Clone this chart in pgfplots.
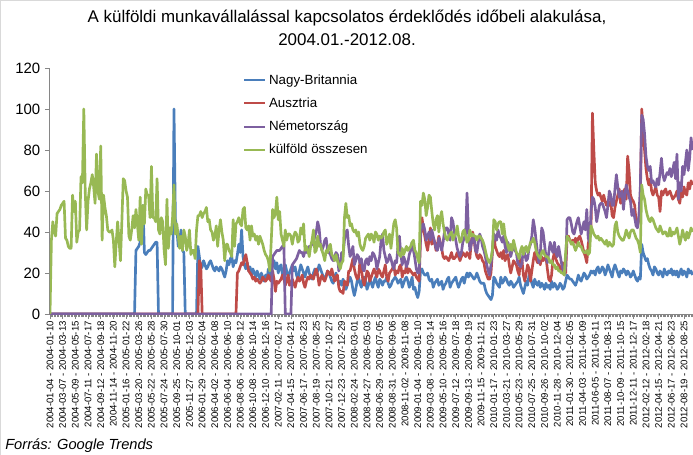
\documentclass[border=0pt]{standalone}
\usepackage{fontspec}
\setmainfont{Liberation Sans}
\usepackage{pgfplots}
\usepackage{pgfplotstable}
\pgfplotsset{compat=1.18}
\definecolor{cUK}{HTML}{4A7EBB}
\definecolor{cAT}{HTML}{BE4B48}
\definecolor{cDE}{HTML}{7D60A0}
\definecolor{cTOT}{HTML}{98B954}
\definecolor{axgray}{HTML}{868686}
\definecolor{framegray}{HTML}{D9D9D9}

% weekly values, week 0 = 2004-01-04
\pgfplotstableread[header=false,row sep=\\]{
0\\0\\0\\0\\0\\0\\0\\0\\0\\0\\
0\\0\\0\\0\\0\\0\\0\\0\\0\\0\\
0\\0\\0\\0\\0\\0\\0\\0\\0\\0\\
0\\0\\0\\0\\0\\0\\0\\0\\0\\0\\
0\\0\\0\\0\\0\\0\\0\\0\\0\\0\\
0\\0\\0\\0\\0\\0\\0\\0\\0\\0\\
0\\31\\32\\33\\35\\40\\53\\30\\29\\30\\
31\\31\\32\\33\\34\\35\\35\\0\\0\\0\\
0\\0\\0\\0\\0\\0\\0\\0\\100\\46\\
42\\33\\36\\41\\31\\30\\0\\0\\0\\0\\
0\\0\\0\\0\\0\\33\\28\\22\\23\\26\\
24\\22\\23\\25\\26\\24\\22\\21\\23\\22\\
21\\23\\22\\20\\18\\21\\26\\24\\27\\28\\
23\\26\\25\\29\\34\\30\\41\\28\\24\\22\\
25\\21\\23\\19\\22\\20\\18\\21\\19\\17\\
20\\18\\16\\19\\17\\22\\18\\21\\24\\26\\
22\\25\\20\\23\\24\\19\\22\\24\\21\\18\\
20\\22\\24\\21\\23\\19\\17\\21\\24\\22\\
20\\18\\21\\23\\20\\18\\17\\20\\22\\19\\
21\\24\\22\\20\\18\\17\\19\\21\\20\\18\\
16\\15\\18\\20\\17\\15\\16\\14\\17\\15\\
12\\14\\16\\18\\16\\12\\9\\12\\16\\18\\
15\\13\\17\\18\\16\\12\\14\\17\\15\\13\\
16\\18\\15\\13\\17\\16\\14\\16\\16\\18\\
15\\13\\14\\16\\17\\18\\17\\15\\16\\17\\
13\\15\\17\\18\\16\\13\\15\\18\\12\\13\\
10\\8\\11\\21\\22\\20\\19\\19\\20\\17\\
16\\17\\13\\15\\16\\17\\14\\15\\16\\12\\
14\\15\\17\\18\\13\\15\\16\\17\\18\\15\\
13\\15\\17\\18\\15\\18\\20\\18\\20\\19\\
18\\17\\18\\20\\18\\16\\15\\15\\15\\12\\
10\\9\\8\\7\\9\\18\\17\\15\\14\\13\\
18\\15\\16\\18\\17\\15\\14\\16\\15\\13\\
14\\15\\16\\18\\14\\12\\10\\13\\16\\14\\
19\\18\\15\\13\\17\\15\\14\\16\\13\\15\\
14\\12\\15\\13\\14\\12\\16\\13\\15\\14\\
12\\13\\15\\14\\12\\13\\16\\19\\18\\17\\
17\\16\\15\\14\\16\\19\\17\\16\\18\\20\\
19\\17\\18\\19\\21\\20\\21\\19\\22\\23\\
20\\21\\23\\22\\19\\21\\24\\22\\20\\18\\
22\\24\\22\\20\\18\\21\\20\\22\\21\\19\\
21\\20\\18\\19\\21\\19\\17\\16\\18\\17\\
34\\30\\28\\26\\27\\24\\22\\21\\19\\23\\
22\\20\\19\\21\\20\\18\\22\\20\\19\\21\\
20\\22\\19\\21\\19\\21\\18\\20\\22\\19\\
21\\20\\18\\22\\20\\21\\19\\
}\tblUK

\pgfplotstableread[header=false,row sep=\\]{
0\\0\\0\\0\\0\\0\\0\\0\\0\\0\\
0\\0\\0\\0\\0\\0\\0\\0\\0\\0\\
0\\0\\0\\0\\0\\0\\0\\0\\0\\0\\
0\\0\\0\\0\\0\\0\\0\\0\\0\\0\\
0\\0\\0\\0\\0\\0\\0\\0\\0\\0\\
0\\0\\0\\0\\0\\0\\0\\0\\0\\0\\
0\\0\\0\\0\\0\\0\\0\\0\\0\\0\\
0\\0\\0\\0\\0\\0\\0\\0\\0\\0\\
0\\0\\0\\0\\0\\0\\0\\0\\0\\0\\
0\\0\\0\\0\\0\\0\\0\\0\\0\\0\\
0\\0\\0\\0\\0\\0\\26\\24\\0\\0\\
0\\0\\0\\0\\0\\0\\0\\0\\0\\0\\
0\\0\\0\\0\\0\\0\\0\\0\\0\\0\\
0\\0\\0\\20\\21\\23\\25\\24\\27\\29\\
25\\21\\20\\19\\17\\18\\16\\17\\16\\15\\
16\\18\\17\\16\\17\\19\\17\\16\\21\\17\\
11\\16\\15\\16\\17\\19\\17\\14\\16\\19\\
14\\15\\17\\15\\13\\16\\18\\16\\17\\19\\
15\\13\\16\\18\\17\\19\\18\\17\\20\\22\\
19\\14\\17\\19\\17\\16\\18\\21\\20\\19\\
22\\19\\16\\18\\19\\13\\11\\11\\10\\16\\
15\\14\\21\\21\\24\\27\\22\\19\\17\\18\\
26\\22\\17\\14\\17\\21\\20\\16\\18\\20\\
22\\20\\18\\22\\21\\19\\18\\21\\24\\18\\
16\\20\\21\\22\\24\\19\\21\\20\\23\\24\\
18\\21\\20\\24\\20\\22\\21\\20\\19\\20\\
18\\17\\16\\37\\47\\42\\38\\34\\31\\36\\
42\\34\\37\\35\\31\\34\\38\\35\\32\\28\\
27\\28\\27\\26\\28\\30\\27\\27\\28\\30\\
28\\26\\28\\30\\29\\28\\30\\29\\27\\35\\
40\\36\\31\\28\\27\\29\\28\\26\\25\\21\\
19\\17\\17\\20\\30\\39\\33\\31\\29\\28\\
30\\27\\31\\26\\28\\29\\24\\20\\23\\26\\
25\\24\\21\\19\\27\\26\\19\\16\\20\\24\\
22\\16\\21\\26\\30\\27\\25\\27\\24\\28\\
26\\27\\28\\22\\17\\16\\19\\27\\30\\27\\
25\\24\\21\\23\\25\\23\\20\\37\\38\\36\\
35\\36\\35\\37\\34\\37\\38\\36\\33\\30\\
28\\25\\34\\38\\40\\98\\80\\64\\60\\58\\
59\\57\\55\\58\\55\\53\\55\\53\\55\\48\\
47\\52\\55\\58\\61\\54\\56\\59\\61\\56\\
77\\70\\58\\56\\55\\53\\45\\43\\46\\55\\
100\\90\\80\\71\\66\\63\\66\\60\\58\\60\\
62\\58\\57\\50\\60\\58\\60\\61\\58\\59\\
60\\58\\56\\57\\58\\60\\56\\54\\60\\57\\
62\\59\\58\\64\\61\\65\\63\\
}\tblAT

\pgfplotstableread[header=false,row sep=\\]{
0\\0\\0\\0\\0\\0\\0\\0\\0\\0\\
0\\0\\0\\0\\0\\0\\0\\0\\0\\0\\
0\\0\\0\\0\\0\\0\\0\\0\\0\\0\\
0\\0\\0\\0\\0\\0\\0\\0\\0\\0\\
0\\0\\0\\0\\0\\0\\0\\0\\0\\0\\
0\\0\\0\\0\\0\\0\\0\\0\\0\\0\\
0\\0\\0\\0\\0\\0\\0\\0\\0\\0\\
0\\0\\0\\0\\0\\0\\0\\0\\0\\0\\
0\\0\\0\\0\\0\\0\\0\\0\\0\\0\\
0\\0\\0\\0\\0\\0\\0\\0\\0\\0\\
0\\0\\0\\0\\0\\0\\0\\0\\0\\0\\
0\\0\\0\\0\\0\\0\\0\\0\\0\\0\\
0\\0\\0\\0\\0\\0\\0\\0\\0\\0\\
0\\0\\0\\0\\0\\0\\0\\0\\0\\0\\
0\\0\\0\\0\\0\\0\\0\\0\\0\\0\\
0\\0\\0\\0\\0\\0\\0\\0\\28\\29\\
30\\31\\31\\31\\32\\33\\34\\0\\0\\0\\
0\\0\\24\\25\\26\\27\\29\\31\\30\\30\\
28\\31\\30\\32\\33\\33\\34\\35\\38\\40\\
45\\42\\34\\31\\33\\36\\37\\31\\30\\29\\
27\\26\\28\\30\\29\\21\\24\\30\\29\\36\\
40\\41\\33\\28\\30\\33\\24\\26\\29\\28\\
25\\27\\22\\21\\26\\27\\24\\28\\26\\30\\
29\\27\\22\\25\\28\\36\\39\\31\\28\\25\\
26\\29\\27\\24\\22\\26\\25\\33\\38\\29\\
24\\28\\26\\23\\25\\29\\31\\35\\31\\27\\
22\\20\\20\\39\\43\\44\\41\\36\\38\\40\\
36\\41\\38\\35\\32\\31\\37\\34\\31\\35\\
40\\42\\42\\39\\36\\47\\45\\40\\36\\32\\
30\\28\\30\\35\\37\\39\\59\\40\\31\\34\\
37\\38\\31\\30\\35\\39\\37\\33\\31\\28\\
24\\21\\19\\24\\31\\39\\38\\36\\41\\38\\
37\\35\\38\\33\\30\\35\\32\\28\\31\\34\\
31\\30\\25\\24\\23\\25\\32\\29\\26\\27\\
32\\34\\38\\46\\42\\36\\30\\25\\29\\42\\
40\\34\\28\\25\\30\\35\\32\\30\\35\\30\\
28\\33\\29\\25\\22\\19\\23\\46\\47\\47\\
44\\40\\39\\42\\45\\47\\43\\39\\42\\45\\
41\\51\\37\\35\\50\\57\\56\\52\\45\\49\\
53\\54\\54\\52\\50\\47\\53\\60\\58\\53\\
53\\61\\68\\62\\57\\58\\60\\51\\58\\63\\
60\\57\\55\\48\\51\\47\\43\\42\\48\\62\\
97\\95\\88\\77\\72\\70\\72\\64\\65\\63\\
62\\66\\63\\69\\76\\68\\65\\67\\69\\68\\
71\\67\\70\\74\\66\\78\\56\\64\\60\\72\\
68\\74\\80\\70\\76\\86\\80\\
}\tblDE

\pgfplotstableread[header=false,row sep=\\]{
0\\36\\45\\40\\38\\49\\50\\51\\53\\54\\
55\\37\\36\\33\\32\\32\\58\\50\\55\\35\\
40\\41\\67\\64\\100\\60\\41\\55\\61\\64\\
68\\62\\54\\78\\60\\56\\82\\36\\58\\52\\
48\\41\\40\\40\\41\\36\\23\\35\\45\\36\\
26\\45\\66\\65\\60\\57\\38\\36\\41\\48\\
42\\51\\44\\36\\57\\34\\53\\44\\61\\58\\
58\\47\\72\\47\\47\\45\\66\\41\\39\\47\\
45\\31\\24\\56\\32\\42\\39\\47\\63\\39\\
44\\38\\32\\38\\31\\41\\38\\31\\34\\41\\
29\\31\\31\\27\\41\\48\\48\\50\\47\\49\\
50\\52\\45\\46\\41\\40\\36\\38\\43\\33\\
41\\46\\40\\36\\26\\34\\34\\31\\30\\28\\
46\\33\\44\\45\\47\\44\\43\\51\\52\\42\\
41\\43\\36\\43\\38\\39\\36\\38\\34\\38\\
36\\34\\31\\29\\28\\26\\21\\35\\51\\47\\
49\\57\\46\\50\\39\\36\\33\\41\\36\\39\\
39\\38\\34\\38\\40\\39\\35\\36\\42\\39\\
44\\31\\33\\31\\28\\33\\36\\41\\30\\31\\
38\\33\\34\\31\\29\\26\\31\\30\\33\\34\\
29\\28\\26\\29\\26\\24\\22\\25\\26\\47\\
54\\47\\48\\43\\44\\41\\40\\41\\38\\40\\
34\\32\\31\\33\\37\\38\\39\\36\\39\\38\\
35\\40\\39\\36\\38\\37\\38\\40\\41\\34\\
36\\39\\32\\38\\44\\46\\42\\30\\29\\28\\
32\\29\\31\\33\\31\\32\\33\\35\\36\\31\\
30\\27\\25\\55\\53\\59\\56\\48\\52\\58\\
57\\50\\44\\41\\46\\48\\40\\47\\50\\44\\
40\\37\\36\\38\\39\\40\\36\\38\\39\\43\\
38\\35\\36\\40\\41\\38\\35\\36\\41\\38\\
39\\38\\38\\36\\38\\38\\37\\36\\34\\31\\
28\\26\\25\\27\\31\\46\\45\\41\\44\\45\\
45\\39\\44\\38\\36\\33\\31\\34\\31\\36\\
33\\30\\29\\27\\31\\33\\29\\32\\33\\30\\
32\\35\\35\\37\\35\\31\\29\\28\\27\\30\\
31\\29\\28\\28\\27\\25\\26\\24\\24\\22\\
23\\21\\21\\20\\20\\19\\30\\38\\37\\36\\
34\\35\\33\\31\\33\\35\\33\\33\\31\\30\\
30\\31\\29\\30\\43\\41\\39\\38\\37\\38\\
36\\37\\36\\35\\34\\36\\33\\35\\34\\33\\
34\\43\\45\\40\\38\\37\\36\\36\\38\\41\\
39\\37\\40\\41\\41\\39\\37\\36\\34\\30\\
63\\58\\56\\51\\48\\46\\45\\47\\46\\44\\
42\\41\\40\\43\\41\\39\\40\\40\\38\\38\\
42\\38\\40\\39\\40\\42\\38\\34\\37\\41\\
38\\36\\40\\37\\39\\42\\40\\
}\tblTOT

\begin{document}
\begin{tikzpicture}[x=1pt,y=1pt]
\path[use as bounding box] (0,0) rectangle (519.75,340.5);
\draw[framegray,line width=0.75pt] (0.6,-20) -- (0.6,339.9) -- (560,339.9);
\node[anchor=base,font=\fontsize{12.7}{15}\selectfont] at (260.25,323.25)
  {A külföldi munkavállalással kapcsolatos érdeklődés időbeli alakulása,};
\node[anchor=base,font=\fontsize{12.7}{15}\selectfont] at (260.25,306)
  {2004.01.-2012.08.};
\node[anchor=base west,inner sep=0pt,font=\fontsize{11}{13}\selectfont\itshape] at (3.75,3.75)
  {Forrás: Google Trends};
\begin{axis}[
  at={(37.5pt,105pt)}, anchor=south west,
  scale only axis, width=482.9pt, height=184.5pt,
  xmin=0, xmax=457, ymin=0, ymax=120,
  axis lines*=left,
  axis line style={axgray,line width=0.75pt},
  tick align=outside,
  major tick length=3.75pt, minor tick length=2.25pt,
  tick style={axgray,line width=0.5pt},
  ytick={0,20,...,120},
  yticklabel style={font=\fontsize{11.2}{13}\selectfont,text=black},
  /pgf/number format/assume math mode=true,
  xtick={0,9,...,450},
  minor xtick={0,1,...,456},
  xticklabels={
  2004-01-04 - 2004-01-10,2004-03-07 - 2004-03-13,2004-05-09 - 2004-05-15,
  2004-07-11 - 2004-07-17,2004-09-12 - 2004-09-18,2004-11-14 - 2004-11-20,
  2005-01-16 - 2005-01-22,2005-03-20 - 2005-03-26,2005-05-22 - 2005-05-28,
  2005-07-24 - 2005-07-30,2005-09-25 - 2005-10-01,2005-11-27 - 2005-12-03,
  2006-01-29 - 2006-02-04,2006-04-02 - 2006-04-08,2006-06-04 - 2006-06-10,
  2006-08-06 - 2006-08-12,2006-10-08 - 2006-10-14,2006-12-10 - 2006-12-16,
  2007-02-11 - 2007-02-17,2007-04-15 - 2007-04-21,2007-06-17 - 2007-06-23,
  2007-08-19 - 2007-08-25,2007-10-21 - 2007-10-27,2007-12-23 - 2007-12-29,
  2008-02-24 - 2008-03-01,2008-04-27 - 2008-05-03,2008-06-29 - 2008-07-05,
  2008-08-31 - 2008-09-06,2008-11-02 - 2008-11-08,2009-01-04 - 2009-01-10,
  2009-03-08 - 2009-03-14,2009-05-10 - 2009-05-16,2009-07-12 - 2009-07-18,
  2009-09-13 - 2009-09-19,2009-11-15 - 2009-11-21,2010-01-17 - 2010-01-23,
  2010-03-21 - 2010-03-27,2010-05-23 - 2010-05-29,2010-07-25 - 2010-07-31,
  2010-09-26 - 2010-10-02,2010-11-28 - 2010-12-04,2011-01-30 - 2011-02-05,
  2011-04-03 - 2011-04-09,2011-06-05 - 2011-06-11,2011-08-07 - 2011-08-13,
  2011-10-09 - 2011-10-15,2011-12-11 - 2011-12-17,2012-02-12 - 2012-02-18,
  2012-04-15 - 2012-04-21,2012-06-17 - 2012-06-23,2012-08-19 - 2012-08-25},
  xticklabel style={rotate=90,anchor=east,font=\fontsize{7.2}{8}\selectfont,text=black,inner sep=1.5pt},
  legend style={draw=none,fill=none,at={(rel axis cs:0.300,0.985)},anchor=north west,
    font=\fontsize{10}{12}\selectfont,row sep=4.5pt,inner sep=0pt,cells={anchor=west}},
  legend image code/.code={\draw[#1,line width=1.5pt] (0pt,0pt) -- (15.75pt,0pt);},
]
\addplot[cUK,line width=2pt,line join=round] table[x expr=\coordindex,y index=0] {\tblUK};
\addplot[cAT,line width=2pt,line join=round] table[x expr=\coordindex,y index=0] {\tblAT};
\addplot[cDE,line width=2pt,line join=round] table[x expr=\coordindex,y index=0] {\tblDE};
\addplot[cTOT,line width=2pt,line join=round] table[x expr=\coordindex,y index=0] {\tblTOT};
\legend{Nagy-Britannia,Ausztria,Németország,külföld összesen}
\end{axis}
\end{tikzpicture}
\end{document}
